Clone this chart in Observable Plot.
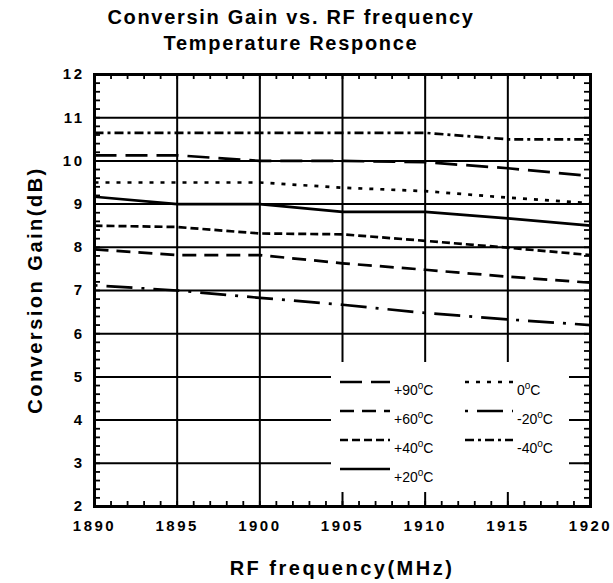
<!DOCTYPE html>
<html><head><meta charset="utf-8">
<script src="https://cdn.jsdelivr.net/npm/d3@7"></script>
<script src="https://cdn.jsdelivr.net/npm/@observablehq/plot@0.6"></script>
<style>
html,body{margin:0;padding:0;background:#fff;}
#root{position:relative;width:613px;height:583px;font-family:"Liberation Sans",Arial,sans-serif;color:#000;overflow:hidden;}
#title{height:60px;width:582px;box-sizing:border-box;padding-top:5px;text-align:center;font-weight:bold;font-size:20px;letter-spacing:1.7px;line-height:25.5px;}
#chart svg{display:block;}
#chart [aria-label$="tick label"] text{letter-spacing:2.5px;}
#overlay{position:absolute;left:0;top:0;pointer-events:none;}
</style></head><body>
<div id="root">
  <div id="title"><div>Conversin Gain vs. RF frequency</div><div>Temperature Responce</div></div>
  <div id="chart"></div>
  <svg id="overlay" width="613" height="583"></svg>
</div>
<script>
// ---- data ----
const freqs = [1890, 1895, 1900, 1905, 1910, 1915, 1920];
const temps = ["+90", "+60", "+40", "+20", "0", "-20", "-40"];
const gainP90 = [10.13, 10.13, 10.0, 10.0, 9.97, 9.83, 9.65];
const gainP60 = [7.95, 7.82, 7.82, 7.63, 7.48, 7.32, 7.18];
const gainP40 = [8.5, 8.47, 8.32, 8.3, 8.15, 7.99, 7.82];
const gainP20 = [9.17, 9.0, 9.0, 8.82, 8.82, 8.67, 8.5];
const gain0 = [9.5, 9.5, 9.5, 9.38, 9.3, 9.15, 9.02];
const gainM20 = [7.12, 7.0, 6.83, 6.67, 6.48, 6.33, 6.2];
const gainM40 = [10.65, 10.65, 10.65, 10.65, 10.65, 10.5, 10.5];
const xTickLabels = [1890, 1895, 1900, 1905, 1910, 1915, 1920];
const yTickLabels = [2, 3, 4, 5, 6, 7, 8, 9, 10, 11, 12];
const xTitle = "RF frequency(MHz)";
const yTitle = "Conversion Gain(dB)";

const seriesValues = [gainP90, gainP60, gainP40, gainP20, gain0, gainM20, gainM40];
// ---- styles ----
const dashes = {"+90": "22,9", "+60": "14,8", "+40": "8,4", "+20": null, "0": "4,7", "-20": "3,9,26,9", "-40": "9,4,3,4"};

const rows = [];
temps.forEach((t, k) => seriesValues[k].forEach((v, i) => rows.push({freq: freqs[i], gain: v, temp: t})));

const xMinor = d3.range(1890, 1921, 1);
const yMinor = d3.range(0, 51).map(i => +(2 + i * 0.2).toFixed(1));

const W = 613, H = 523, mT = 14, mB = 77, mL = 94, mR = 23;
const innerW = W - mL - mR, innerH = H - mT - mB;
const tickLenX = 5, tickLenY = 6;

const lineMarks = temps.map(t => Plot.line(rows.filter(r => r.temp === t), {
  x: "freq", y: "gain", stroke: "#000", strokeWidth: 2.7,
  strokeDasharray: dashes[t] || undefined, strokeLinecap: "butt", strokeLinejoin: "round"
}));

const chart = Plot.plot({
  width: W, height: H, marginTop: mT, marginBottom: mB, marginLeft: mL, marginRight: mR,
  style: {fontFamily: '"Liberation Sans", Arial, sans-serif', background: "#fff", color: "#000"},
  x: {domain: [1890, 1920]},
  y: {domain: [2, 12]},
  marks: [
    Plot.gridX(xTickLabels, {stroke: "#000", strokeOpacity: 1, strokeWidth: 2}),
    Plot.gridY(yTickLabels, {stroke: "#000", strokeOpacity: 1, strokeWidth: 2}),
    Plot.tickX(xMinor, {x: d => d, insetTop: innerH - tickLenX, stroke: "#000", strokeWidth: 1.8}),
    Plot.tickX(xMinor, {x: d => d, insetBottom: innerH - tickLenX, stroke: "#000", strokeWidth: 1.8}),
    Plot.tickY(yMinor, {y: d => d, insetRight: innerW - tickLenY, stroke: "#000", strokeWidth: 1.8}),
    Plot.tickY(yMinor, {y: d => d, insetLeft: innerW - tickLenY, stroke: "#000", strokeWidth: 1.8}),
    ...lineMarks,
    Plot.frame({stroke: "#000", strokeWidth: 3}),
    Plot.axisX(xTickLabels, {anchor: "bottom", tickSize: 0, tickPadding: 14, fontSize: 15, fontWeight: "bold", label: null, tickFormat: d => String(d)}),
    Plot.axisY(yTickLabels, {anchor: "left", tickSize: 0, tickPadding: 10, fontSize: 15, fontWeight: "bold", label: null, tickFormat: d => String(d)})
  ]
});
document.getElementById("chart").appendChild(chart);

// ---- overlay: axis titles and legend ----
const ov = d3.select("#overlay");
const top0 = 60; // height of title block
ov.append("text").attr("x", (mL + W - mR) / 2).attr("y", 575).attr("text-anchor", "middle")
  .attr("font-family", '"Liberation Sans", Arial, sans-serif').attr("font-weight", "bold").attr("font-size", 20)
  .attr("letter-spacing", "2.5px").text(xTitle);
ov.append("text").attr("transform", `translate(42,${top0 + mT + innerH / 2}) rotate(-90)`).attr("text-anchor", "middle")
  .attr("font-family", '"Liberation Sans", Arial, sans-serif').attr("font-weight", "bold").attr("font-size", 20)
  .attr("letter-spacing", "2.5px").text(yTitle);

const lg = ov.append("g").attr("transform", "translate(331,362)");
lg.append("rect").attr("width", 238).attr("height", 130).attr("fill", "#fff");
const legendOrder = ["+90", "+60", "+40", "+20", "0", "-20", "-40"];
legendOrder.forEach((t, i) => {
  const col = i < 4 ? 0 : 1, row = i < 4 ? i : i - 4;
  const x0 = col === 0 ? 9 : 134, x1 = col === 0 ? 59 : 182;
  const y = 20 + row * 29;
  lg.append("line").attr("x1", x0).attr("x2", x1).attr("y1", y).attr("y2", y)
    .attr("stroke", "#000").attr("stroke-width", 2.7).attr("stroke-dasharray", dashes[t] || null);
  const tx = lg.append("text").attr("x", x1 + 4).attr("y", y + 13)
    .attr("font-family", '"Liberation Sans", Arial, sans-serif').attr("font-size", 14);
  tx.append("tspan").text(t);
  tx.append("tspan").attr("dy", -6).attr("font-size", 10).text("o");
  tx.append("tspan").attr("dy", 6).text("C");
});
</script>
</body></html>
